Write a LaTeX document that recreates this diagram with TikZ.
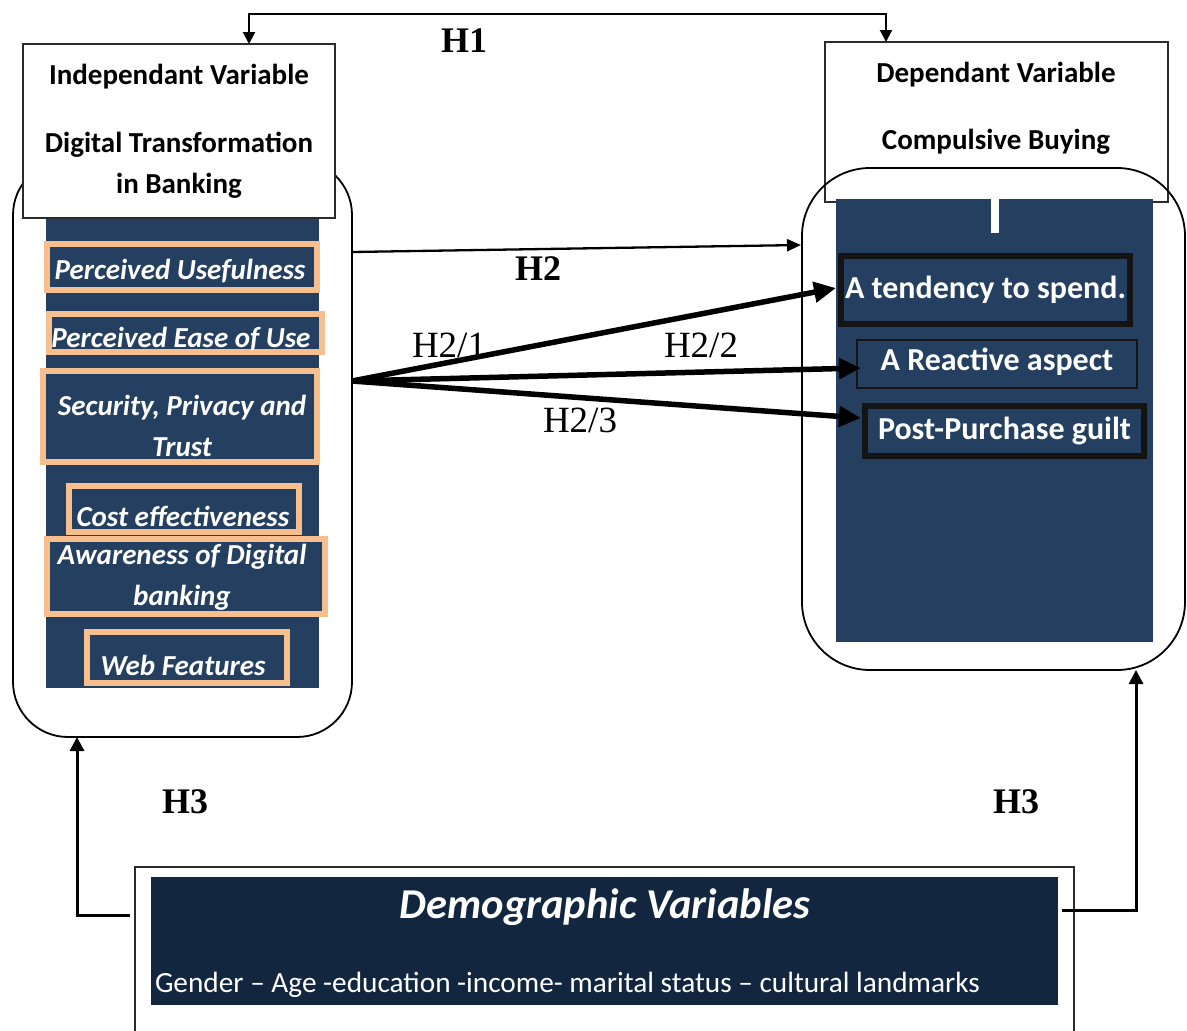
\documentclass[tikz,border=0pt]{standalone}
\usepackage{fontspec}
\setmainfont{Carlito}
\newfontfamily\tnr{Liberation Serif}
\usetikzlibrary{arrows.meta,calc}
\definecolor{panelc}{HTML}{243F60}
\definecolor{navyc}{HTML}{12263F}
\definecolor{peach}{HTML}{F7BE8E}
\definecolor{boxline}{HTML}{2B2B2B}
\begin{document}
\begin{tikzpicture}[x=1pt,y=-1pt,
 every node/.style={inner sep=0pt,outer sep=0pt},
 roundbox/.style={draw=black,line width=1.8pt},
 whitebox/.style={draw=boxline,line width=1.8pt,fill=white},
 panel/.style={fill=panelc},
 item/.style={draw=peach,line width=6pt,fill=panelc},
 itemtext/.style={text=white,align=center,font=\fontsize{29}{41}\selectfont\bfseries\itshape},
 ritem/.style={draw=black!92,fill=panelc,text=white,font=\fontsize{32}{38}\selectfont\bfseries},
 head/.style={font=\fontsize{29}{41}\selectfont\bfseries,align=center},
 hlab/.style={font=\tnr\fontsize{36}{40}\selectfont\bfseries},
 hsub/.style={font=\tnr\fontsize{37}{40}\selectfont},
 hone/.style={line width=2pt,{Triangle[length=12pt,width=12pt]}-{Triangle[length=12pt,width=12pt]}},
 htwo/.style={line width=2.3pt,-{Triangle[length=14pt,width=12pt]}},
 hsubarrow/.style={line width=5.5pt,-{Triangle[length=22pt,width=20pt]}},
 hthree/.style={line width=3pt,-{Triangle[length=14pt,width=14pt]}}
]
\useasboundingbox (0,0) rectangle (1187,1031);

% ---------- left block ----------
\node[roundbox, rounded corners=55pt, minimum width=339pt, minimum height=577pt] (lrr) at (182.5,448.5) {};
\node[panel, minimum width=273pt, minimum height=488pt] (lpanel) at (182.5,444) {};
\node[whitebox, head, minimum width=312pt, minimum height=174pt] (ibox) at (179,131)
  {Independant Variable\\[27pt]Digital Transformation\\in Banking};

\node[item, minimum width=270pt, minimum height=46pt] (pu) at (182,267) {};
\node[itemtext] (put) at (180,271) {Perceived Usefulness};
\node[item, minimum width=273pt, minimum height=38pt] (peou) at (185.5,333) {};
\node[itemtext] (peout) at (181,339) {Perceived Ease of Use};
\node[item, minimum width=274pt, minimum height=91pt] (spt) at (180,416.5) {};
\node[itemtext] (sptt) at (182,425.5) {Security, Privacy and\\Trust};
\node[item, minimum width=230pt, minimum height=46pt] (ce) at (184,509) {};
\node[itemtext] (cet) at (183,516) {Cost effectiveness};
\node[item, minimum width=278pt, minimum height=75pt] (adb) at (186,576.5) {};
\node[itemtext] (adbt) at (182,577) {Awareness of Digital\\banking};
\node[item, minimum width=200pt, minimum height=51pt] (wf) at (187,657.5) {};
\node[itemtext] (wft) at (183,665) {Web Features};

% ---------- right block ----------
\node[whitebox, minimum width=343pt, minimum height=160pt] (dbox) at (996.5,122) {};
\node[head] (dtext) at (996,108) {Dependant Variable\\[26pt]Compulsive Buying};
\node[roundbox, rounded corners=68pt, minimum width=383pt, minimum height=502pt] (rrr) at (993.5,419) {};
\node[panel, minimum width=317pt, minimum height=443pt] (rpanel) at (994.5,420.5) {};
\node[fill=white, minimum width=8pt, minimum height=35pt] (cursor) at (995,215.5) {};
\node[ritem, line width=6pt, minimum width=289pt, minimum height=68pt] (r1) at (985.5,290) {A tendency to spend.};
\node[ritem, line width=2.5pt, minimum width=280pt, minimum height=48pt, text depth=10pt] (r2) at (997,364) {A Reactive aspect};
\node[ritem, line width=6pt, minimum width=279pt, minimum height=50pt] (r3) at (1004.5,431) {Post-Purchase guilt};

% ---------- bottom block ----------
\node[draw=boxline, line width=1.5pt, fill=white, minimum width=939pt, minimum height=180pt] (bbox) at (604.5,957) {};
\node[fill=navyc, minimum width=907pt, minimum height=128pt] (demo) at (604.5,941) {};
\node[text=white, font=\fontsize{42.5}{48}\selectfont\bfseries\itshape, anchor=base] (dtitle) at (605,918) {Demographic Variables};
\node[text=white, font=\fontsize{29.3}{32}\selectfont, anchor=base west] (dlist) at (155,992)
  {Gender – Age -education -income- marital status – cultural landmarks};

% ---------- labels ----------
\node[hlab, anchor=base] (lh1) at (464,52) {H1};
\node[hlab, anchor=base] (lh2) at (538,280) {H2};
\node[hsub, anchor=base] (lh21) at (449,357) {H2/1};
\node[hsub, anchor=base] (lh22) at (701,357) {H2/2};
\node[hsub, anchor=base] (lh23) at (580,432) {H2/3};
\node[hlab, anchor=base] (lh3a) at (185,813) {H3};
\node[hlab, anchor=base] (lh3b) at (1016,813) {H3};

% ---------- connectors ----------
\draw[hone] ($(ibox.north)+(70,0)$) -- ++(0,-30) -| ($(dbox.north)+(-110.5,0)$);
\draw[htwo] ($(lrr.east)+(0,-196.5)$) -- ($(rrr.west)+(-1,-174)$);
\draw[hsubarrow] ($(lrr.east)+(0,-67.5)$) -- ($(r1.west)+(-5,-2)$);
\draw[hsubarrow] ($(lrr.east)+(0,-67.5)$) -- ($(r2.west)+(4,4)$);
\draw[hsubarrow] ($(lrr.east)+(0,-67.5)$) -- ($(r3.west)+(-4,-13)$);
\draw[hthree] ($(bbox.west)+(-5,-42)$) -| ($(lrr.south)+(-105.5,0)$);
\draw[hthree] ($(bbox.east)+(-12,-47)$) -| ($(rrr.south)+(142.5,0)$);
\end{tikzpicture}
\end{document}
